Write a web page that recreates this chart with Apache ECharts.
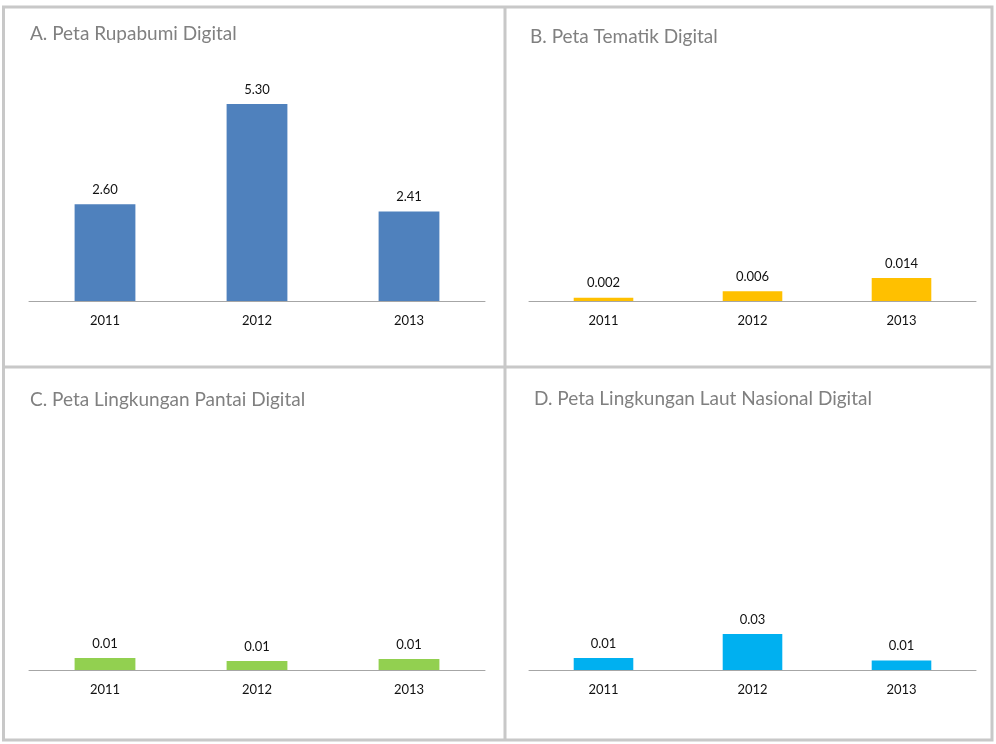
<!DOCTYPE html>
<html>
<head>
<meta charset="utf-8">
<script src="https://cdn.jsdelivr.net/npm/echarts@6/dist/echarts.min.js"></script>
<style>html,body{margin:0;padding:0;background:#fff;}#c{width:996px;height:744px;}</style>
</head>
<body>
<div id="c"></div>
<script>
const categories = ['2011', '2012', '2013'];
const titles = ['A. Peta Rupabumi Digital', 'B. Peta Tematik Digital', 'C. Peta Lingkungan Pantai Digital', 'D. Peta Lingkungan Laut Nasional Digital'];
const rupabumi = [2.60, 5.30, 2.41];
const tematik = [0.002, 0.006, 0.014];
const pantai = [0.012, 0.009, 0.011];
const laut = [0.010, 0.030, 0.008];
const decimals = [2, 3, 2, 2];

const seriesData = [rupabumi, tematik, pantai, laut];
const colors = ['#4F81BD', '#FFC000', '#92D050', '#00B0F0'];
const yMax = [6, 0.14, 0.24, 0.2];
const grids = [
  {left: 29, width: 456, top: 78, height: 223},
  {left: 529, width: 447, top: 71, height: 230},
  {left: 29, width: 456, top: 430, height: 240},
  {left: 529, width: 447, top: 430, height: 240}
];
const titlePos = [[30, 24], [530, 27], [30, 390], [534, 389]];
const FONT = 'Lato';

const chart = echarts.init(document.getElementById('c'));
const option = {
  animation: false,
  title: titles.map((t, i) => ({
    text: t, left: titlePos[i][0], top: titlePos[i][1], padding: 0,
    textStyle: {fontFamily: FONT, fontSize: 19, fontWeight: 'normal', color: '#808080'}
  })),
  grid: grids.map(g => Object.assign({containLabel: false}, g)),
  xAxis: grids.map((g, i) => ({
    type: 'category', gridIndex: i, data: categories,
    axisLine: {lineStyle: {color: '#A6A6A6', width: 1}},
    axisTick: {show: false},
    axisLabel: {fontFamily: FONT, fontSize: 13, color: '#111111', margin: 13}
  })),
  yAxis: grids.map((g, i) => ({
    type: 'value', gridIndex: i, min: 0, max: yMax[i],
    show: false, splitLine: {show: false}
  })),
  series: seriesData.map((d, i) => ({
    type: 'bar', xAxisIndex: i, yAxisIndex: i, data: d,
    barWidth: '40%',
    itemStyle: {color: colors[i]},
    label: {
      show: true, position: 'top', distance: 8,
      fontFamily: FONT, fontSize: 13, color: '#111111',
      formatter: p => p.value.toFixed(decimals[i])
    }
  })),
  graphic: [
    {type: 'rect', shape: {x: 3.5, y: 7, width: 988.5, height: 733}, style: {fill: 'none', stroke: '#C8C8C8', lineWidth: 3}},
    {type: 'line', shape: {x1: 505, y1: 7, x2: 505, y2: 740}, style: {stroke: '#C8C8C8', lineWidth: 3}},
    {type: 'line', shape: {x1: 3.5, y1: 367, x2: 992, y2: 367}, style: {stroke: '#C8C8C8', lineWidth: 3}}
  ]
};
chart.setOption(option);
</script>
</body>
</html>
